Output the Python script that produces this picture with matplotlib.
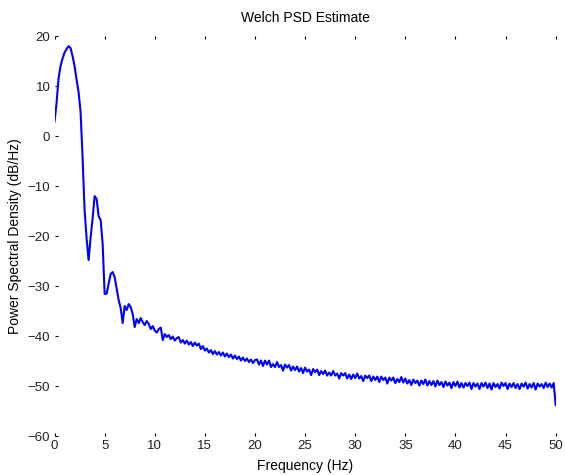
import numpy as np
import matplotlib
matplotlib.use('Agg')
import matplotlib.pyplot as plt

plt.rcParams.update({
    'font.family': ['Liberation Sans', 'DejaVu Sans'],
    'font.size': 10,
    'axes.titlesize': 10,
    'axes.labelsize': 10,
    'xtick.labelsize': 9.5,
    'ytick.labelsize': 9.5,
})

# Welch PSD (dB/Hz), one value every 0.2 Hz from 0 to 50 Hz
psd_db = [
    2.9, 6.5, 11.5, 14.0, 15.5, 16.7, 17.4, 18.0, 17.6, 16.0,            # 0-2 Hz
    14.0, 11.3, 8.8, 4.8, -4.3, -14.8, -20.5, -24.8, -20.3, -16.5,       # 2-4
    -12.0, -12.6, -16.0, -16.8, -21.5, -31.6, -31.5, -29.5, -27.6, -27.2,  # 4-6
    -28.2, -30.5, -32.8, -34.4, -37.4, -34.0, -34.8, -33.6, -34.2, -35.6,  # 6-8
    -38.2, -36.6, -37.4, -36.4, -37.2, -37.8, -37.0, -37.6, -38.6, -38.0,  # 8-10
    -38.9, -39.3, -38.6, -38.3, -40.8, -39.6, -40.2, -39.8, -40.6, -40.1,  # 10-12
    -40.9, -40.4, -40.2, -41.3, -40.8, -41.5, -40.9, -41.7, -41.2, -42.0,  # 12-14
    -41.3, -41.9, -41.5, -42.6, -42.0, -42.9, -42.5, -43.3, -42.8, -43.6,  # 14-16
    -43.0, -43.7, -43.2, -43.9, -43.3, -44.1, -43.5, -44.2, -43.7, -44.5,  # 16-18
    -43.9, -44.6, -44.1, -44.9, -44.3, -45.0, -44.5, -45.2, -44.7, -45.4,  # 18-20
    -44.8,                                                                # 20
    -44.7, -45.7, -44.9, -46.0, -44.9, -45.7, -44.9, -46.2, -45.6, -46.2,  # 20.2-22
    -45.2, -46.2, -45.8, -46.9, -45.7, -46.3, -45.8, -46.9, -46.1, -46.8,  # 22.2-24
    -46.1, -47.1, -46.4, -47.4, -46.3, -47.1, -46.7, -47.8, -46.6, -47.2,  # 24.2-26
    -46.7, -47.8, -47.0, -47.6, -46.9, -47.9, -47.3, -47.9, -47.0, -47.9,  # 26.2-28
    -47.5, -48.5, -47.4, -47.9, -47.4, -48.5, -47.7, -48.6, -47.7, -48.4,  # 28.2-30
    -47.5, -48.5, -48.0, -49.0, -47.9, -48.4, -47.9, -49.0, -48.1, -48.8,  # 30.2-32
    -48.1, -49.2, -48.1, -48.8, -48.3, -49.5, -48.3, -48.9, -48.3, -49.4,  # 32.2-34
    -48.6, -49.2, -48.2, -49.3, -48.5, -49.5, -48.8, -49.8, -48.7, -49.4,  # 34.2-36
    -48.9, -49.9, -48.9, -49.6, -48.7, -49.9, -49.0, -49.8, -49.0, -50.1,  # 36.2-38
    -48.9, -49.8, -49.2, -50.2, -49.1, -49.9, -49.3, -50.4, -49.2, -50.0,  # 38.2-40
    -49.1, -50.3, -49.4, -50.3, -49.4, -50.0, -49.3, -50.6, -49.4, -50.1,  # 40.2-42
    -49.5, -50.6, -49.4, -50.1, -49.3, -50.4, -49.5, -50.7, -49.4, -50.2,  # 42.2-44
    -49.6, -50.5, -49.3, -50.0, -49.4, -50.6, -49.5, -50.2, -49.4, -50.4,  # 44.2-46
    -49.6, -50.6, -49.5, -50.1, -49.3, -50.5, -49.6, -50.3, -49.4, -50.7,  # 46.2-48
    -49.5, -50.1, -49.6, -50.4, -49.3, -50.2, -49.5, -50.3, -49.4, -53.8,  # 48.2-50
]
freq = np.linspace(0, 50, len(psd_db))

x_ticks = [0, 5, 10, 15, 20, 25, 30, 35, 40, 45, 50]
y_ticks = [-60, -50, -40, -30, -20, -10, 0, 10, 20]

fig = plt.figure(figsize=(5.65, 4.75), dpi=100)
ax = fig.add_axes([0.0965, 0.082, 0.887, 0.842])

ax.plot(freq, psd_db, color='#0000ff', linewidth=1.5)

ax.set_xlim(0, 50)
ax.set_ylim(-60, 20)
ax.set_xticks(x_ticks)
ax.set_yticks(y_ticks)

# MATLAB-like look: no visible box, tiny inward ticks
for s in ax.spines.values():
    s.set_visible(False)
ax.tick_params(direction='in', length=2, width=0.8, color='black',
               labelcolor='#222222', top=True, right=False, pad=3)

ax.set_title('Welch PSD Estimate', pad=10)
ax.set_xlabel('Frequency (Hz)', labelpad=5)
ax.set_ylabel('Power Spectral Density (dB/Hz)', labelpad=4)

fig.savefig('out.png', dpi=100)
